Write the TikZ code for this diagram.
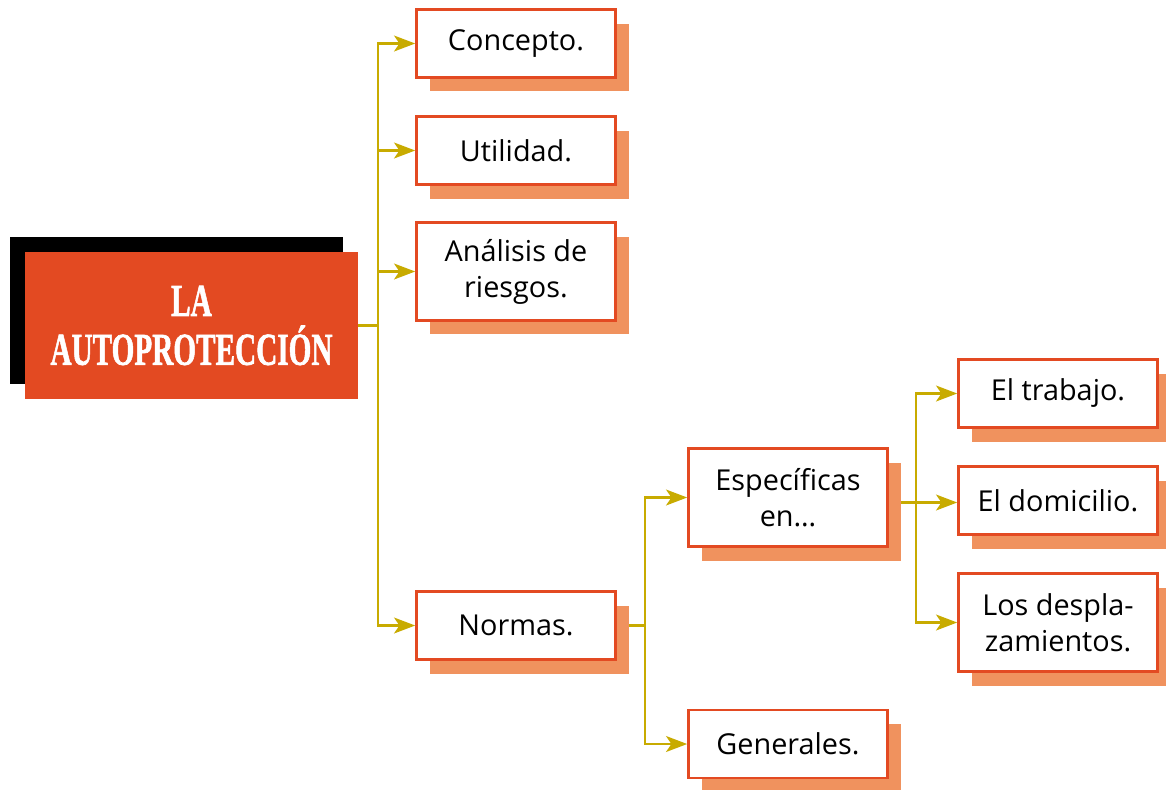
\documentclass[tikz,border=0pt]{standalone}
\usepackage{fontspec}
\setmainfont{Open Sans}
\newfontfamily\titlefont[FakeBold=1.6]{Liberation Serif Bold}
\usepackage{graphicx}
\usetikzlibrary{shadows}
\usetikzlibrary{arrows.meta}
\usetikzlibrary{backgrounds}

\definecolor{boxred}{HTML}{E34A22}
\definecolor{shadowsalmon}{HTML}{F0925E}
\definecolor{linkolive}{HTML}{C8AB00}

\tikzset{
  topic/.style={draw=boxred, line width=1.5pt, fill=white, align=center,
    minimum width=3.98cm, minimum height=1.36cm, inner sep=2pt,
    font=\fontsize{16.4}{20.5}\selectfont,
    drop shadow={shadow xshift=0.27cm, shadow yshift=-0.28cm,
      fill=shadowsalmon, opacity=1}},
  tall/.style={minimum height=1.96cm},
  headbox/.style={fill=boxred, text=white, align=center,
    minimum width=6.66cm, minimum height=2.94cm,
    font=\titlefont\fontsize{26}{27.8}\selectfont,
    drop shadow={shadow xshift=-0.3cm, shadow yshift=0.3cm,
      fill=black, opacity=1}},
  link/.style={draw=linkolive, line width=1.5pt},
  linkto/.style={link, -{Stealth[length=12pt, width=9pt, inset=3pt]}}
}

\begin{document}
\begin{tikzpicture}[x=0.02cm, y=-0.02cm]%{{{

    \useasboundingbox (0,0) rectangle (1166,789);

    % main title
    \node[headbox] (auto) at (191.5,325.5)
      {\scalebox{0.64}[1]{LA}\\\scalebox{0.64}[1]{AUTOPROTECCIÓN}};

    % first level
    \node[topic] (concepto) at (516,43.5) {Concepto.};
    \node[topic] (utilidad) at (516,150.5) {Utilidad.};
    \node[topic, tall] (analisis) at (516,271.5) {Análisis de\\riesgos.};
    \node[topic] (normas) at (516,625.5) {Normas.};

    % second level
    \node[topic, tall] (especificas) at (788,497.5) {Específicas\\en\dots};
    \node[topic] (generales) at (788,744) {Generales.};

    % third level
    \node[topic] (trabajo) at (1058,393.5) {El trabajo.};
    \node[topic] (domicilio) at (1058,500.5) {El domicilio.};
    \node[topic, tall] (desplaza) at (1058,622.5) {Los despla-\\zamientos.};

    \begin{scope}[on background layer]
    \coordinate (j1) at (378,325.5);
    \draw[link] (auto.east) -- (j1);
    \draw[linkto] (j1) |- (concepto.west);
    \draw[linkto] (j1) |- (utilidad.west);
    \draw[linkto] (j1) |- (analisis.west);
    \draw[linkto] (j1) |- (normas.west);

    \coordinate (j2) at (645,625.5);
    \draw[link] (normas.east) -- (j2);
    \draw[linkto] (j2) |- (especificas.west);
    \draw[linkto] (j2) |- (generales.west);

    \coordinate (j3) at (916,502.5);
    \draw[link] (especificas.east |- j3) -- (j3);
    \draw[linkto] (j3) |- (trabajo.west);
    \draw[linkto] (j3) |- (domicilio.west |- j3);
    \draw[linkto] (j3) |- (desplaza.west);
    \end{scope}
  \end{tikzpicture}
\end{document}
